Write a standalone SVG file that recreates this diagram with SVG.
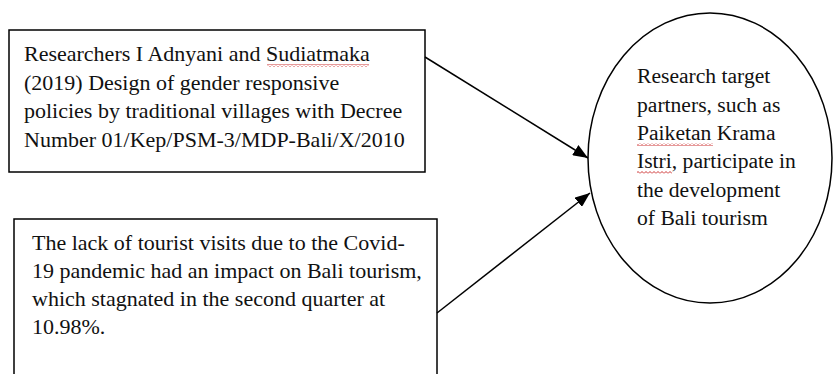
<svg xmlns="http://www.w3.org/2000/svg" width="835" height="374" viewBox="0 0 835 374">
<style>
  .box { fill: #ffffff; stroke: #000000; stroke-width: 1.5; }
  .txt { font-family: "Liberation Serif", "Times New Roman", serif; font-size: 22px; fill: #111111; }
  .ctxt { font-family: "Liberation Serif", "Times New Roman", serif; font-size: 21.6px; fill: #111111; }
  .conn { stroke: #000000; stroke-width: 1.5; fill: none; marker-end: url(#arrow); }
</style>
<defs>
  <marker id="arrow" markerUnits="userSpaceOnUse" markerWidth="16" markerHeight="12" refX="15" refY="6" orient="auto">
    <path d="M0,0 L15,6 L0,12 Z" fill="#000000"/>
  </marker>
  <pattern id="wavy" patternUnits="userSpaceOnUse" width="4" height="3">
    <path d="M0,2.5 L2,0.5 L4,2.5" stroke="#c00000" stroke-width="0.8" fill="none"/>
  </pattern>
</defs>
<rect width="835" height="374" fill="#ffffff"/>
<g id="node-researchers">
  <rect class="box" x="9" y="30" width="416" height="142"/>
  <text class="txt" x="24" y="61">Researchers I Adnyani and Sudiatmaka</text>
  <text class="txt" x="24" y="90">(2019) Design of gender responsive</text>
  <text class="txt" x="24" y="118">policies by traditional villages with Decree</text>
  <text class="txt" x="24" y="147">Number 01/Kep/PSM-3/MDP-Bali/X/2010</text>
  <rect x="267" y="64" width="102" height="3" fill="url(#wavy)"/>
</g>
<g id="node-covid">
  <rect class="box" x="14" y="219" width="423" height="170"/>
  <text class="txt" x="32" y="250">The lack of tourist visits due to the Covid-</text>
  <text class="txt" x="32" y="278">19 pandemic had an impact on Bali tourism,</text>
  <text class="txt" x="32" y="306">which stagnated in the second quarter at</text>
  <text class="txt" x="32" y="334">10.98%.</text>
</g>
<g id="node-target">
  <ellipse class="box" cx="710" cy="158" rx="122" ry="145"/>
  <text class="ctxt" x="637" y="83">Research target</text>
  <text class="ctxt" x="637" y="112">partners, such as</text>
  <text class="ctxt" x="637" y="140">Paiketan Krama</text>
  <text class="ctxt" x="637" y="168">Istri, participate in</text>
  <text class="ctxt" x="637" y="197">the development</text>
  <text class="ctxt" x="637" y="225">of Bali tourism</text>
  <rect x="637" y="143" width="76" height="3" fill="url(#wavy)"/>
  <rect x="637" y="171" width="35" height="3" fill="url(#wavy)"/>
</g>
<g id="connectors">
  <line class="conn" x1="425" y1="57" x2="588" y2="158"/>
  <line class="conn" x1="437" y1="313" x2="590" y2="193"/>
</g>
</svg>
